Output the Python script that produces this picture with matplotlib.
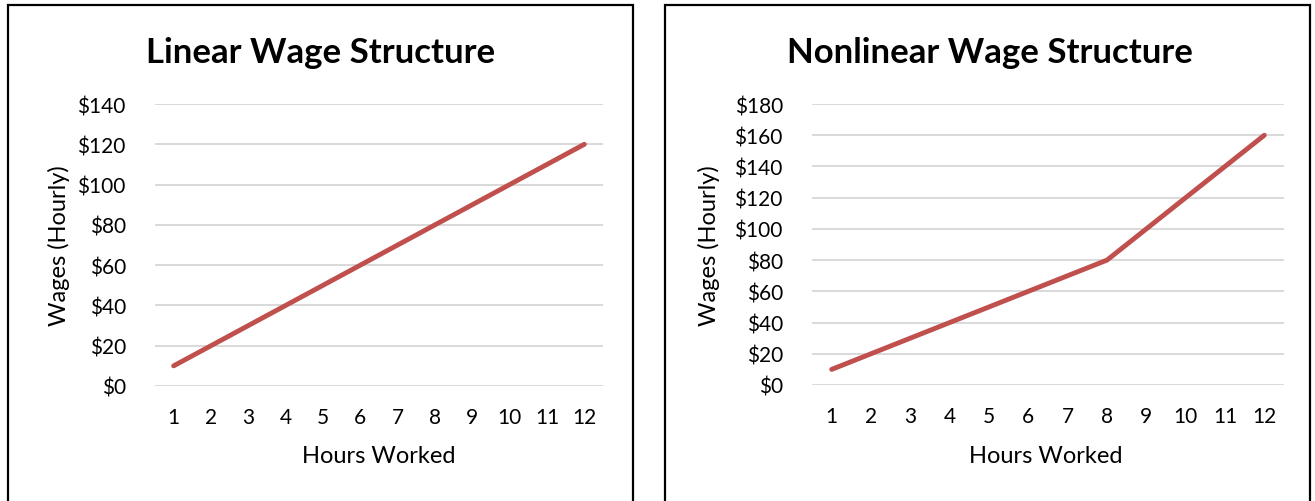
import matplotlib
matplotlib.use("Agg")
import matplotlib.pyplot as plt
from matplotlib.patches import Rectangle
from matplotlib.ticker import FuncFormatter, MultipleLocator

plt.rcParams['font.family'] = ['Lato', 'DejaVu Sans']

hours = [1, 2, 3, 4, 5, 6, 7, 8, 9, 10, 11, 12]
linear_wages = [10, 20, 30, 40, 50, 60, 70, 80, 90, 100, 110, 120]
nonlinear_wages = [10, 20, 30, 40, 50, 60, 70, 80, 100, 120, 140, 160]

W, H = 1315, 502
fig = plt.figure(figsize=(W / 100, H / 100), dpi=100)

# panel borders
for x0, x1 in [(8, 633), (665, 1310)]:
    fig.patches.append(Rectangle((x0 / W, -0.05), (x1 - x0) / W, (H - 6) / H + 0.05,
                                 transform=fig.transFigure, fill=False,
                                 edgecolor='black', linewidth=1.6))

def make(ax_px, title, title_x, data, ymax, ystep, xlab_pos, ylab_pos):
    l, r, t, b = ax_px
    ax = fig.add_axes([l / W, (H - b) / H, (r - l) / W, (b - t) / H])
    ax.plot(hours, data, color='#C0504D', linewidth=3.5, solid_capstyle='round')
    ax.set_xlim(0.5, 12.5)
    ax.set_ylim(0, ymax)
    ax.yaxis.set_major_locator(MultipleLocator(ystep))
    ax.yaxis.set_major_formatter(FuncFormatter(lambda v, p: f"${v:.0f}"))
    ax.set_xticks(hours)
    ax.set_xticklabels([str(h) for h in hours])
    ax.grid(axis='y', color='#D9D9D9', linewidth=1.4)
    ax.set_axisbelow(True)
    for s in ax.spines.values():
        s.set_visible(False)
    ax.tick_params(axis='both', length=0, labelsize=15, colors='black')
    ax.tick_params(axis='x', pad=15)
    ax.tick_params(axis='y', pad=21)
    ax.set_xlabel('Hours Worked', fontsize=17)
    ax.set_ylabel('Wages (Hourly)', fontsize=17)
    ax.xaxis.set_label_coords(*xlab_pos)
    ax.yaxis.set_label_coords(*ylab_pos)
    fig.text(title_x / W, (H - 53) / H, title, ha='center', va='center',
             fontsize=25, fontweight='bold')
    return ax

make((155, 603, 105, 387), 'Linear Wage Structure', 321, linear_wages, 140, 20,
     (0.5, -0.21), (-0.19, 0.5))
make((812, 1284, 105, 386), 'Nonlinear Wage Structure', 990, nonlinear_wages, 180, 20,
     (0.496, -0.215), (-0.195, 0.5))

fig.savefig('out.png', dpi=100)
